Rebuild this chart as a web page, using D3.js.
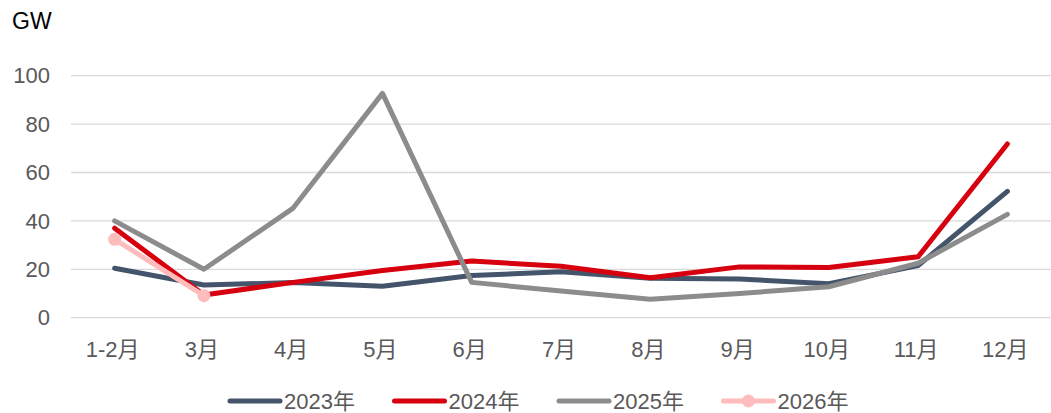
<!DOCTYPE html>
<html>
<head>
<meta charset="utf-8">
<script src="https://cdn.jsdelivr.net/npm/d3@7"></script>
<style>
  body { margin: 0; background: #fff; }
  text { font-family: Arial, "Liberation Sans", "Noto Sans CJK SC", sans-serif; }
</style>
</head>
<body>
<svg id="chart"></svg>
<script>
let months = ['1-2月', '3月', '4月', '5月', '6月', '7月', '8月', '9月', '10月', '11月', '12月']
let yTicks = [0, 20, 40, 60, 80, 100]
let years = ['2023年', '2024年', '2025年', '2026年']

let v2023 = [20.4, 13.5, 14.5, 13, 17.4, 19, 16.3, 16, 14, 21.5, 52.2]
let v2024 = [37, 9.4, 14.6, 19.5, 23.4, 21.3, 16.5, 21, 20.7, 25.2, 71.8]
let v2025 = [40, 20, 45.3, 92.7, 14.6, 11, 7.6, 10, 12.8, 22.5, 42.7]
let v2026 = [32.4, 9.1]

let colors = ['#44546a', '#d7000f', '#8c8c8c', '#ffbcbc']

let opts = {
    width: 1051,
    height: 413,
    left: 70,
    right: 1052,
    top: 75.7,
    bottom: 317.7
}

let svg = d3.select('#chart')
    .attr('width', opts.width)
    .attr('height', opts.height)

let x = d3.scaleBand().domain(months).range([opts.left, opts.right]).padding(0)
let y = d3.scaleLinear().domain([0, 100]).range([opts.bottom, opts.top])

// gridlines
svg.append('g').selectAll('line').data(yTicks).enter().append('line')
    .attr('x1', 71).attr('x2', opts.width)
    .attr('y1', d => y(d)).attr('y2', d => y(d))
    .attr('stroke', '#d9d9d9').attr('stroke-width', 1.3)

// y labels
svg.append('g').selectAll('text').data(yTicks).enter().append('text')
    .attr('x', 50).attr('y', d => y(d))
    .attr('dy', '0.35em')
    .attr('text-anchor', 'end')
    .attr('font-size', 22)
    .attr('fill', '#595959')
    .text(d => d)

// x labels
svg.append('g').selectAll('text').data(months).enter().append('text')
    .attr('x', d => x(d) + x.bandwidth() / 2 - 2)
    .attr('y', 357)
    .attr('text-anchor', 'middle')
    .attr('font-size', 22)
    .attr('fill', '#595959')
    .text(d => d)

svg.append('text')
    .attr('x', 12).attr('y', 29)
    .attr('font-size', 23)
    .attr('fill', '#000')
    .text('GW')

let line = d3.line()
    .x((d, i) => x(months[i]) + x.bandwidth() / 2)
    .y(d => y(d))

let series = [v2023, v2024, v2025, v2026]
series.forEach((s, k) => {
    svg.append('path')
        .datum(s)
        .attr('d', line)
        .attr('fill', 'none')
        .attr('stroke', colors[k])
        .attr('stroke-width', 5)
        .attr('stroke-linejoin', 'round')
        .attr('stroke-linecap', 'round')
})

svg.append('g').selectAll('circle').data(v2026).enter().append('circle')
    .attr('cx', (d, i) => x(months[i]) + x.bandwidth() / 2)
    .attr('cy', d => y(d))
    .attr('r', 6.5)
    .attr('fill', colors[3])

// legend
let legend = svg.append('g').selectAll('g').data(years).enter().append('g')
    .attr('transform', (d, i) => 'translate(' + (230 + i * 164.5) + ',401)')

legend.append('line')
    .attr('x1', 0).attr('x2', 50)
    .attr('stroke', (d, i) => colors[i])
    .attr('stroke-width', 5)
    .attr('stroke-linecap', 'round')

legend.filter((d, i) => i === 3).append('circle')
    .attr('cx', 25).attr('r', 6.5)
    .attr('fill', colors[3])

legend.append('text')
    .attr('x', 54)
    .attr('dy', '0.36em')
    .attr('font-size', 22)
    .attr('fill', '#595959')
    .text(d => d)
</script>
</body>
</html>
